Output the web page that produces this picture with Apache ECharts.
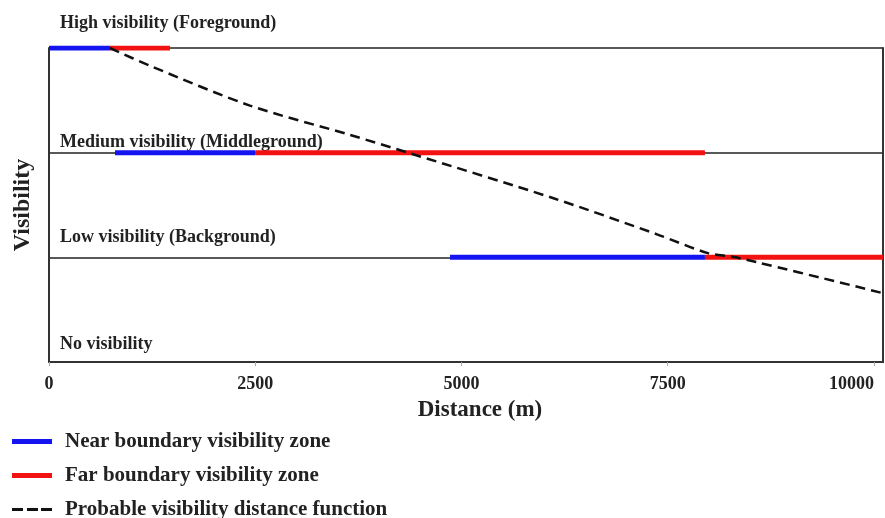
<!DOCTYPE html>
<html>
<head>
<meta charset="utf-8">
<script src="https://cdn.jsdelivr.net/npm/echarts@6/dist/echarts.min.js"></script>
<style>
  html, body { margin: 0; padding: 0; background: #fff; }
  #main { width: 885px; height: 518px; }
</style>
</head>
<body>
<div id="main"></div>
<script>
// visibility levels, from 0 (bottom) to 3 (top)
const levels = ['No visibility', 'Low visibility (Background)', 'Medium visibility (Middleground)', 'High visibility (Foreground)'];
const xTicks = [0, 2500, 5000, 7500, 10000];
const xMax = 10110;
// zone segments: [level, from (m), to (m)]
const nearZone = [[3, 0, 739], [2, 800, 2500], [1, 4861, 7951]];
const farZone = [[3, 739, 1467], [2, 2500, 7951], [1, 7951, 10110]];
// probable visibility distance function: [distance, visibility]
const distFunc = [[739, 3], [1224, 2.83], [2436, 2.45], [3648, 2.17], [4352, 2.0], [6133, 1.56], [7370, 1.22], [7988, 1.04], [8327, 1.0], [10097, 0.66]];

const nearName = 'Near boundary visibility zone';
const farName = 'Far boundary visibility zone';
const funcName = 'Probable visibility distance function';

var chartDom = document.getElementById('main');
var myChart = echarts.init(chartDom);

const font = 'Liberation Serif';
const blue = '#1414f0';
const red = '#f21212';

function segs(list, name, color) {
  return list.map(s => ({
    name: name,
    type: 'line',
    symbol: 'none',
    lineStyle: { color: color, width: 5, cap: 'butt' },
    itemStyle: { color: color },
    data: [[s[1], s[0]], [s[2], s[0]]]
  }));
}

var series = []
  .concat(segs(nearZone, nearName, blue))
  .concat(segs(farZone, farName, red));
series.push({
  name: funcName,
  type: 'line',
  symbol: 'none',
  smooth: 0.3,
  z: 5,
  lineStyle: { color: '#111', width: 2.5, type: [10, 6] },
  itemStyle: { color: '#111' },
  data: distFunc
});

var option = {
  animation: false,
  grid: { left: 49, right: 2, top: 48, bottom: 156, outerBoundsMode: 'none' },
  legend: {
    orient: 'vertical',
    left: 12,
    top: 431,
    height: 100,
    padding: 0,
    itemWidth: 40,
    itemHeight: 5,
    itemGap: 13,
    data: [
      { name: nearName, icon: 'rect' },
      { name: farName, icon: 'rect' },
      { name: funcName, icon: 'path://M0,0h11v3h-11z M15,0h11v3h-11z M29,0h11v3h-11z' }
    ],
    textStyle: { fontFamily: font, fontWeight: 'bold', fontSize: 21, color: '#222', padding: [0, 0, 0, 8] }
  },
  xAxis: {
    type: 'value',
    min: 0,
    max: xMax,
    name: 'Distance (m)',
    nameLocation: 'middle',
    nameGap: 37,
    nameTextStyle: { fontFamily: font, fontWeight: 'bold', fontSize: 23, color: '#222', padding: [0, 0, 0, 28] },
    axisLine: { show: true, lineStyle: { color: '#333', width: 2 } },
    axisTick: { show: true, length: 4, lineStyle: { color: '#aaa' }, customValues: xTicks },
    axisLabel: {
      customValues: xTicks,
      alignMaxLabel: 'right',
      fontFamily: font, fontWeight: 'bold', fontSize: 18, color: '#222', margin: 13,
      formatter: function (v) { return String(v); }
    },
    splitLine: { show: false }
  },
  yAxis: [{
    type: 'value',
    min: 0,
    max: 3,
    interval: 1,
    name: 'Visibility',
    nameLocation: 'middle',
    nameGap: 14,
    nameTextStyle: { fontFamily: font, fontWeight: 'bold', fontSize: 24, color: '#222' },
    axisLine: { show: true, lineStyle: { color: '#333', width: 2 } },
    axisTick: { show: false },
    splitLine: { show: true, lineStyle: { color: '#222', width: 1.5 } },
    axisLabel: {
      inside: true,
      margin: 11,
      verticalAlign: 'bottom',
      fontFamily: font,
      fontWeight: 'bold',
      fontSize: 18,
      color: '#222',
      formatter: function (v) { return '{l' + v + '|' + levels[v] + '}'; },
      rich: {
        l0: { padding: [0, 0, 9, 0] },
        l1: { padding: [0, 0, 11, 0] },
        l2: { padding: [0, 0, 1, 0] },
        l3: { padding: [0, 0, 16, 0] }
      }
    }
  }, {
    type: 'value',
    min: 0,
    max: 3,
    position: 'right',
    axisLine: { show: true, lineStyle: { color: '#333', width: 2 } },
    axisTick: { show: false },
    axisLabel: { show: false },
    splitLine: { show: false }
  }],
  series: series
};

option && myChart.setOption(option);
</script>
</body>
</html>
